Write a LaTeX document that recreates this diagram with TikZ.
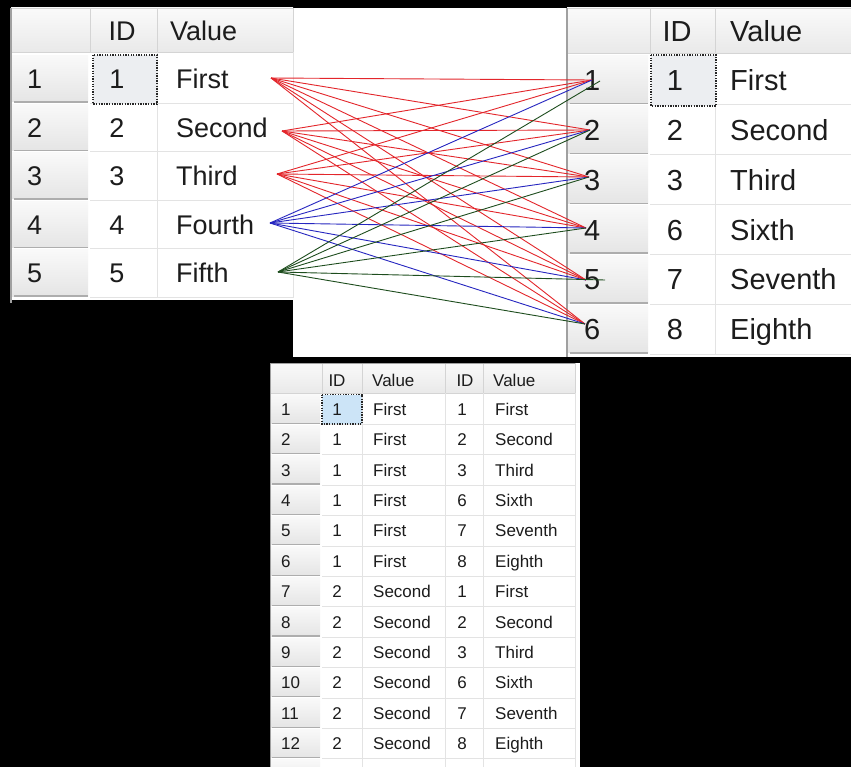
\documentclass[tikz,border=0pt]{standalone}
\usepackage{fontspec}
\setmainfont{Liberation Sans}
\definecolor{hdrtop}{HTML}{FAFAFA}
\definecolor{hdrbot}{HTML}{E9E9E9}
\definecolor{hdrline}{HTML}{D4D4D4}
\definecolor{rntop}{HTML}{F9F9F9}
\definecolor{rnbot}{HTML}{E5E5E5}
\definecolor{rnline}{HTML}{ADADAD}
\definecolor{gridc}{HTML}{E3E3E3}
\definecolor{bordc}{HTML}{A0A0A0}
\definecolor{txtc}{HTML}{1C1C1C}
\definecolor{selgray}{HTML}{ECEEF1}
\definecolor{selblue}{HTML}{CCE4F7}
\definecolor{lred}{HTML}{E3262B}
\definecolor{lblue}{HTML}{2626C0}
\definecolor{lgreen}{HTML}{1E4D1E}
\begin{document}
\begin{tikzpicture}[x=1pt,y=-1pt,
  hdrcell/.style={top color=hdrtop,bottom color=hdrbot,draw=hdrline,line width=0.8pt},
  rncell/.style={top color=rntop,bottom color=rnbot},
  rnsep/.style={draw=rnline,line width=1.2pt},
  gridln/.style={draw=gridc,line width=1pt},
  border/.style={draw=bordc,line width=1.2pt},
  selcell/.style={draw=black!85,line width=1.3pt,dash pattern=on 1.3pt off 1.3pt},
  txt/.style={inner sep=0pt,text=txtc,anchor=base west},
  ctxt/.style={inner sep=0pt,text=txtc,anchor=base},
  fsl/.style={font=\fontsize{27}{30}\selectfont},
  fsr/.style={font=\fontsize{29}{32}\selectfont},
  fsb/.style={font=\fontsize{17}{19}\selectfont},
  conn/.style={line width=0.9pt}]
\useasboundingbox (0,0) rectangle (851,767);
\fill[black] (0,0) rectangle (851,767);
% white areas
\fill[white] (11,8) rectangle (567,300);
\fill[white] (293,8) rectangle (567,357);
\fill[white] (567,8) rectangle (851,357);
\fill[white] (270,363) rectangle (580,767);

% ================= left table =================
\draw[hdrcell] (11,8) rectangle (90,52);
\draw[hdrcell] (90,8) rectangle (157,52);
\draw[hdrcell] (157,8) rectangle (293,52);
\foreach \i in {1,...,5}{
  \pgfmathsetmacro\ta{55+48.5*(\i-1)}
  \pgfmathsetmacro\tb{\ta+48.5}
  \shade[rncell] (12,\ta+1) rectangle (88,\tb-1.5);
  \draw[rnsep] (14,\tb-1.5) -- (88,\tb-1.5);
  \draw[gridln] (90,\tb) -- (293,\tb);
}
\draw[gridln] (157,52) -- (157,297.5);
\draw[gridln] (293,52) -- (293,297.5);
\draw[border] (11,8) -- (11,303);
\filldraw[fill=selgray,selcell] (93,55) rectangle (157,104);
\node[ctxt,fsl] (lh-id) at (122,40.7) {ID};
\node[txt,fsl] (lh-val) at (170,40.7) {Value};
\foreach \i/\v in {1/First,2/Second,3/Third,4/Fourth,5/Fifth}{
  \pgfmathsetmacro\tc{55+48.5*(\i-1)+24.25+9.7}
  \node[txt,fsl] (l-rn-\i) at (27,\tc) {\i};
  \node[ctxt,fsl] (l-id-\i) at (117,\tc) {\i};
  \node[txt,fsl] (l-val-\i) at (176,\tc) {\v};
}

% ================= right table =================
\draw[hdrcell] (567,8) rectangle (650,53);
\draw[hdrcell] (650,8) rectangle (715,53);
\draw[hdrcell] (715,8) rectangle (853,53);
\foreach \i in {1,...,6}{
  \pgfmathsetmacro\ta{55+49.9*(\i-1)}
  \pgfmathsetmacro\tb{\ta+49.9}
  \shade[rncell] (568,\ta+1) rectangle (648,\tb-1.5);
  \draw[rnsep] (570,\tb-1.5) -- (648,\tb-1.5);
  \draw[gridln] (650,\tb) -- (851,\tb);
}
\draw[gridln] (715,53) -- (715,354.4);
\draw[border] (567,8) -- (567,357);
\filldraw[fill=selgray,selcell] (651,55) rectangle (716,106);
\node[ctxt,fsr] (rh-id) at (677,41.4) {ID};
\node[txt,fsr] (rh-val) at (730,41.4) {Value};
\foreach \i/\n/\v in {1/1/First,2/2/Second,3/3/Third,4/6/Sixth,5/7/Seventh,6/8/Eighth}{
  \pgfmathsetmacro\tc{55+49.9*(\i-1)+24.95+10.4}
  \node[txt,fsr] (r-rn-\i) at (584,\tc) {\i};
  \node[ctxt,fsr] (r-id-\i) at (675,\tc) {\n};
  \node[txt,fsr] (r-val-\i) at (730,\tc) {\v};
}

% ================= bottom (result) table =================
\begin{scope}
\clip (270,363) rectangle (580,767);
\draw[hdrcell] (270,363) rectangle (322,393);
\draw[hdrcell] (322,363) rectangle (362,393);
\draw[hdrcell] (362,363) rectangle (445,393);
\draw[hdrcell] (445,363) rectangle (483,393);
\draw[hdrcell] (483,363) rectangle (575,393);
\foreach \i in {1,...,13}{
  \pgfmathsetmacro\ta{394+30.4*(\i-1)}
  \pgfmathsetmacro\tb{\ta+30.4}
  \shade[rncell] (271,\ta+0.8) rectangle (320,\tb-1.2);
  \draw[rnsep] (272,\tb-1.2) -- (320,\tb-1.2);
  \draw[gridln] (322,\tb) -- (575,\tb);
}
\foreach \xx in {362,445,483,575}{
  \draw[gridln] (\xx,393) -- (\xx,790);
}
\draw[border] (270,363) -- (270,790);
\draw[border] (270,363) -- (575,363);
\filldraw[fill=selblue,selcell] (322,394.5) rectangle (362,424);
\node[ctxt,fsb] (bh-id1) at (337,386.1) {ID};
\node[txt,fsb] (bh-val1) at (372,386.1) {Value};
\node[ctxt,fsb] (bh-id2) at (465,386.1) {ID};
\node[txt,fsb] (bh-val2) at (493,386.1) {Value};
\foreach \i/\a/\av/\b/\bv in {1/1/First/1/First,2/1/First/2/Second,3/1/First/3/Third,4/1/First/6/Sixth,5/1/First/7/Seventh,6/1/First/8/Eighth,7/2/Second/1/First,8/2/Second/2/Second,9/2/Second/3/Third,10/2/Second/6/Sixth,11/2/Second/7/Seventh,12/2/Second/8/Eighth,13/3/Third/1/First}{
  \pgfmathsetmacro\tc{394+30.4*(\i-1)+15.2+6.1}
  \node[txt,fsb] (b-rn-\i) at (281,\tc) {\i};
  \node[ctxt,fsb] (b-ida-\i) at (337,\tc) {\a};
  \node[txt,fsb] (b-va-\i) at (373,\tc) {\av};
  \node[ctxt,fsb] (b-idb-\i) at (462,\tc) {\b};
  \node[txt,fsb] (b-vb-\i) at (495,\tc) {\bv};
}
\end{scope}

% ================= connectors =================
\coordinate (lo1) at (271,78);
\coordinate (lo2) at (282,131);
\coordinate (lo3) at (277,174);
\coordinate (lo4) at (270,223);
\coordinate (lo5) at (278,272);
\coordinate (ro1) at (592,80);
\coordinate (ro2) at (590,130);
\coordinate (ro3) at (589,177);
\coordinate (ro4) at (586,228);
\coordinate (ro5) at (586,280);
\coordinate (ro6) at (585,324);
\coordinate (gr1) at (600,81);
\coordinate (gr5) at (605,280);
\foreach \s in {1,2,3}{
  \foreach \t in {1,...,6}{
    \draw[conn,lred] (lo\s) -- (ro\t);
  }
}
\foreach \t in {1,...,6}{
  \draw[conn,lblue] (lo4) -- (ro\t);
}
\foreach \t in {gr1,ro2,ro3,ro4,gr5,ro6}{
  \draw[conn,lgreen] (lo5) -- (\t);
}
\end{tikzpicture}
\end{document}
